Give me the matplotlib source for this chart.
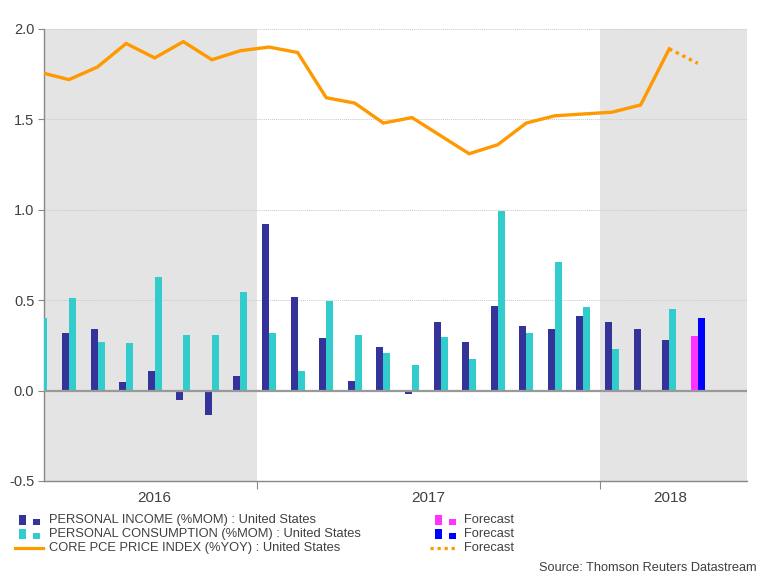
import numpy as np
import matplotlib
matplotlib.use("Agg")
import matplotlib.pyplot as plt
from matplotlib.patches import Rectangle
from matplotlib.lines import Line2D

plt.rcParams['font.family'] = ['Liberation Sans', 'DejaVu Sans']

# Months: May 2016 .. Mar 2018 (month index, Jan 2016 = 0)
month_index = list(range(4, 27))
income = [0.20, 0.32, 0.34, 0.05, 0.11, -0.05, -0.135, 0.08,
          0.92, 0.52, 0.29, 0.055, 0.24, -0.02, 0.38, 0.27, 0.47, 0.36, 0.34, 0.41,
          0.38, 0.34, 0.28]
consumption = [0.40, 0.51, 0.27, 0.265, 0.63, 0.31, 0.31, 0.545,
               0.32, 0.11, 0.495, 0.31, 0.21, 0.14, 0.295, 0.175, 0.995, 0.32, 0.71, 0.46,
               0.23, 0.005, 0.45]
core_pce = [1.76, 1.72, 1.79, 1.92, 1.84, 1.93, 1.83, 1.88,
            1.90, 1.87, 1.62, 1.59, 1.48, 1.51, 1.41, 1.31, 1.36, 1.48, 1.52, 1.53,
            1.54, 1.58, 1.89]
# Forecast for Apr 2018
fc_month = [26, 27]
fc_income = [0.30]
fc_consumption = [0.40]
fc_core_pce = [1.89, 1.81]

years = ['2016', '2017', '2018']
year_label_pos = [8.4, 18.0, 26.45]
year_bounds = [12, 24]
yticks = [-0.5, 0.0, 0.5, 1.0, 1.5, 2.0]

C_INC = '#333399'
C_CON = '#33CCCC'
C_LINE = '#FF9900'
C_FINC = '#FF33FF'
C_FCON = '#0000FF'
C_SHADE = '#E4E4E4'
C_TEXT = '#404040'

W, H = 768, 576
fig = plt.figure(figsize=(W / 100, H / 100), dpi=100)

def fx(px):
    return px / W

def fy(py):
    return 1 - py / H

ax_l, ax_r, ax_t, ax_b = 44, 747, 29, 481
ax = fig.add_axes([fx(ax_l), fy(ax_b), fx(ax_r - ax_l), (ax_b - ax_t) / H])

off = 0.42
bw = 0.245
x = np.array(month_index) + off
xlim = (4.547, 29.14)

ax.axvspan(0, year_bounds[0], color=C_SHADE, zorder=0, lw=0)
ax.axvspan(year_bounds[1], 40, color=C_SHADE, zorder=0, lw=0)

ax.bar(x - bw / 2, income, width=bw, color=C_INC, zorder=3)
ax.bar(x + bw / 2, consumption, width=bw, color=C_CON, zorder=3)
xf = np.array(fc_month[1:]) + off
ax.bar(xf - bw / 2, fc_income, width=bw, color=C_FINC, zorder=3)
ax.bar(xf + bw / 2, fc_consumption, width=bw, color=C_FCON, zorder=3)

ax.plot(x, core_pce, color=C_LINE, lw=2.4, zorder=4, solid_joinstyle='miter')
ax.plot(np.array(fc_month) + off, fc_core_pce, color=C_LINE, lw=2.4,
        linestyle=(0, (1, 1.2)), zorder=4)

ax.axhline(0, color='#999999', lw=1.6, zorder=3.5)
for yv in [0.5, 1.0, 1.5, 2.0]:
    ax.axhline(yv, color='#C8C8C8', lw=0.7, linestyle=(0, (1, 1)), zorder=1)

ax.set_xlim(*xlim)
ax.set_ylim(-0.5, 2.0)
ax.set_yticks(yticks)
ax.set_yticklabels([f'{v:.1f}' for v in yticks], fontsize=10.5, color=C_TEXT)
ax.tick_params(axis='y', length=4, width=0.8, color='#888888', pad=3)
ax.set_xticks(year_bounds)
ax.set_xticklabels([])
ax.tick_params(axis='x', length=6, width=0.8, color='#888888')
for s in ['top', 'right']:
    ax.spines[s].set_visible(False)
for s in ['left', 'bottom']:
    ax.spines[s].set_color('#888888')
    ax.spines[s].set_linewidth(1.0)

for lbl, pos in zip(years, year_label_pos):
    ax.text(pos, -0.5 - 17 / 180.8, lbl, ha='center', va='center',
            fontsize=11, color=C_TEXT)

# Legend
fs = 9.3
def bar_icon(x0, yc, color):
    fig.add_artist(Rectangle((fx(x0), fy(yc + 5)), fx(7), 10 / H, color=color, lw=0))
    fig.add_artist(Rectangle((fx(x0 + 14), fy(yc + 5)), fx(7), 6 / H, color=color, lw=0))

rows = [520, 534, 548]
bar_icon(19, rows[0], C_INC)
bar_icon(19, rows[1], C_CON)
fig.add_artist(Line2D([fx(15), fx(43)], [fy(rows[2]), fy(rows[2])], color=C_LINE, lw=2.3))
labels1 = ['PERSONAL INCOME (%MOM) : United States',
           'PERSONAL CONSUMPTION (%MOM) : United States',
           'CORE PCE PRICE INDEX (%YOY) : United States']
for r, t in zip(rows, labels1):
    fig.text(fx(49), fy(r), t, ha='left', va='center', fontsize=fs, color=C_TEXT)

bar_icon(435, rows[0], C_FINC)
bar_icon(435, rows[1], C_FCON)
fig.add_artist(Line2D([fx(430), fx(458)], [fy(rows[2]), fy(rows[2])], color=C_LINE,
                      lw=2.3, linestyle=(0, (1, 1.2))))
for r in rows:
    fig.text(fx(464), fy(r), 'Forecast', ha='left', va='center', fontsize=fs, color=C_TEXT)

fig.text(fx(757), fy(568), 'Source: Thomson Reuters Datastream', ha='right', va='center',
         fontsize=9.2, color=C_TEXT)

fig.savefig('out.png', dpi=100)
